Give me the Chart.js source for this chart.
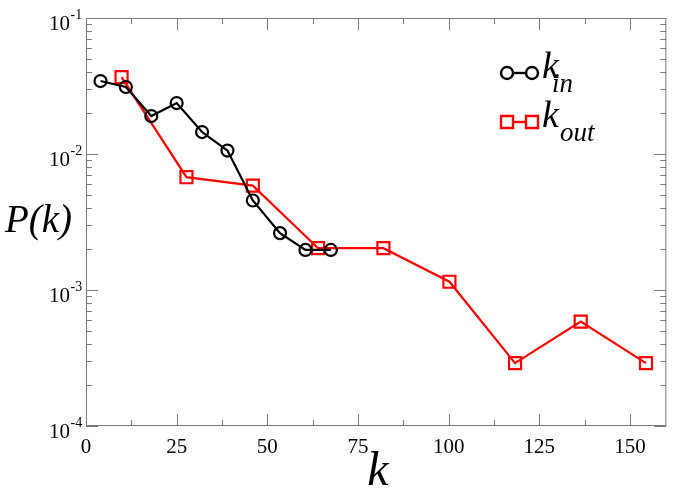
<!DOCTYPE html>
<html>
<head>
<meta charset="utf-8">
<script src="https://cdn.jsdelivr.net/npm/chart.js@4"></script>
<style>
  html, body { margin: 0; padding: 0; background: #fff; }
  #wrap { width: 677px; height: 493px; position: relative; }
</style>
</head>
<body>
<div id="wrap"><canvas id="chart"></canvas></div>
<script>
// degree distribution
const kIn = [4, 11, 18, 25, 32, 39, 46, 53.5, 60.5, 67.5];
const pIn = [0.0344, 0.0311, 0.0190, 0.0237, 0.0145, 0.0106, 0.00455, 0.00262, 0.00197, 0.00197];

const kOut = [9.8, 27.7, 46, 64, 82, 100.2, 118.3, 136.4, 154.4];
const pOut = [0.0368, 0.00675, 0.00585, 0.00203, 0.00203, 0.00115, 0.000290, 0.000585, 0.000290];

const xTicks = [0, 25, 50, 75, 100, 125, 150];
const xMinorTicks = [12.5, 37.5, 62.5, 87.5, 112.5, 137.5];
const yDecades = [-4, -3, -2, -1];

const AXIS_COLOR = '#7a7a7a';
const SERIF = '"Liberation Serif", "DejaVu Serif", serif';

function toPoints(xs, ys) {
  return xs.map((x, i) => ({ x: x, y: ys[i] }));
}

// frame, inward ticks, log labels, axis titles and legend
const decorations = {
  id: 'decorations',
  afterDatasetsDraw(chart) {
    const ctx = chart.ctx;
    const area = chart.chartArea;
    const xs = chart.scales.x;
    const ys = chart.scales.y;
    ctx.save();

    // frame
    ctx.strokeStyle = AXIS_COLOR;
    ctx.lineWidth = 1;
    ctx.strokeRect(area.left + 0.5, area.top + 0.5, area.right - area.left - 1, area.bottom - area.top - 1);

    ctx.beginPath();
    const tick = (v, len) => {
      const px = Math.round(xs.getPixelForValue(v)) + 0.5;
      ctx.moveTo(px, area.bottom); ctx.lineTo(px, area.bottom - len);
      ctx.moveTo(px, area.top); ctx.lineTo(px, area.top + len);
    };
    xTicks.forEach(v => tick(v, 12));
    xMinorTicks.forEach(v => tick(v, 6));

    const ytick = (v, len) => {
      const py = Math.round(ys.getPixelForValue(v)) + 0.5;
      ctx.moveTo(area.left, py); ctx.lineTo(area.left + len, py);
      ctx.moveTo(area.right, py); ctx.lineTo(area.right - len, py);
    };
    yDecades.forEach(d => {
      ytick(Math.pow(10, d), 12);
      if (d < -1) {
        for (let m = 2; m <= 9; m++) ytick(m * Math.pow(10, d), 6);
      }
    });
    ctx.stroke();

    // y labels 10^d
    ctx.fillStyle = '#000';
    ctx.textBaseline = 'alphabetic';
    yDecades.forEach(d => {
      const py = ys.getPixelForValue(Math.pow(10, d));
      ctx.font = '21px ' + SERIF;
      ctx.textAlign = 'right';
      ctx.fillText('10', 70, py + 12);
      ctx.font = '14px ' + SERIF;
      ctx.textAlign = 'left';
      ctx.fillText('-' + (-d), 70.5, py + 1);
    });

    // axis titles
    ctx.font = 'italic 39px ' + SERIF;
    ctx.textAlign = 'left';
    ctx.fillText('P(k)', 5, 232);
    ctx.font = 'italic 48px ' + SERIF;
    ctx.textAlign = 'center';
    ctx.fillText('k', 378, 485);

    // legend
    const legend = [
      { color: '#000', style: 'circle', y: 73, sub: 'in', subX: 552 },
      { color: '#f00', style: 'rect', y: 122, sub: 'out', subX: 560 }
    ];
    legend.forEach(item => {
      ctx.strokeStyle = item.color;
      ctx.lineWidth = 2.4;
      ctx.beginPath();
      ctx.moveTo(507, item.y); ctx.lineTo(532, item.y);
      ctx.stroke();
      [507, 532].forEach(cx => {
        ctx.beginPath();
        if (item.style === 'circle') {
          ctx.arc(cx, item.y, 6, 0, Math.PI * 2);
        } else {
          ctx.rect(cx - 6, item.y - 6, 12, 12);
        }
        ctx.fillStyle = '#fff';
        ctx.fill();
        ctx.stroke();
      });
      ctx.fillStyle = '#000';
      ctx.textAlign = 'left';
      ctx.font = 'italic 38px ' + SERIF;
      ctx.fillText('k', 542, item.y + 5);
      ctx.font = 'italic 27px ' + SERIF;
      ctx.fillText(item.sub, item.subX, item.y + 19);
    });

    ctx.restore();
  }
};

new Chart(document.getElementById('chart'), {
  type: 'line',
  data: {
    datasets: [
      {
        label: 'k_in',
        data: toPoints(kIn, pIn),
        borderColor: '#000',
        backgroundColor: 'rgba(255,255,255,0)',
        borderWidth: 2.2,
        pointStyle: 'circle',
        pointRadius: 6,
        pointBorderWidth: 2.2,
        pointBorderColor: '#000',
        pointBackgroundColor: 'rgba(255,255,255,0)',
        tension: 0
      },
      {
        label: 'k_out',
        data: toPoints(kOut, pOut),
        borderColor: '#f00',
        backgroundColor: 'rgba(255,255,255,0)',
        borderWidth: 2.2,
        pointStyle: 'rect',
        pointRadius: 8.5,
        pointBorderWidth: 2.2,
        pointBorderColor: '#f00',
        pointBackgroundColor: 'rgba(255,255,255,0)',
        tension: 0
      }
    ]
  },
  options: {
    responsive: true,
    maintainAspectRatio: false,
    animation: false,
    devicePixelRatio: 1,
    layout: { padding: { top: 18, right: 9, left: 0, bottom: 0 } },
    plugins: {
      legend: { display: false },
      tooltip: { enabled: false }
    },
    scales: {
      x: {
        type: 'linear',
        min: 0,
        max: 160,
        grid: { display: false },
        border: { display: false },
        ticks: {
          color: '#000',
          font: { family: SERIF, size: 21 },
          padding: 1,
          maxRotation: 0
        },
        afterBuildTicks: scale => { scale.ticks = xTicks.map(v => ({ value: v })); },
        afterFit: scale => { scale.height = 67; }
      },
      y: {
        type: 'logarithmic',
        min: 1e-4,
        max: 1e-1,
        grid: { display: false },
        border: { display: false },
        ticks: { display: false },
        afterFit: scale => { scale.width = 86; }
      }
    }
  },
  plugins: [decorations]
});
</script>
</body>
</html>
